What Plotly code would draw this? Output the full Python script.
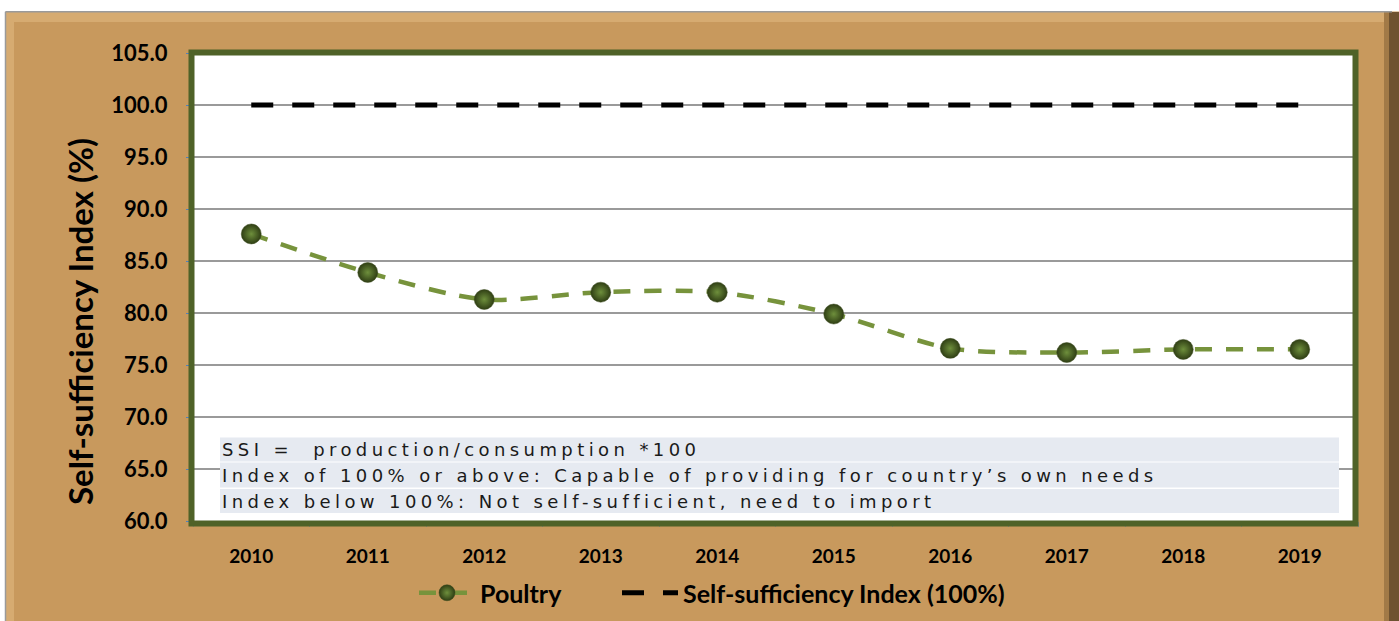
import plotly.graph_objects as go

years = ["2010", "2011", "2012", "2013", "2014", "2015", "2016", "2017", "2018", "2019"]
poultry = [87.6, 83.9, 81.3, 82.0, 82.0, 79.9, 76.6, 76.2, 76.5, 76.5]
ssi_ref = [100.0] * len(years)
y_ticks = [60, 65, 70, 75, 80, 85, 90, 95, 100, 105]
note_lines = [
    "SSI =  production/consumption *100",
    "Index of 100% or above: Capable of providing for country\u2019s own needs",
    "Index below 100%: Not self-sufficient, need to import",
]

W, H = 1399, 621
L, R, T, B = 193, 1358, 53, 521

def px(x):
    return (x - L) / (R - L)

def py(y):
    return (B - y) / (B - T)

def cx(x):
    return x / W

def cy(y):
    return (H - y) / H

TAN = "#C8995D"
fig = go.Figure()

fig.add_trace(go.Scatter(
    x=years, y=poultry, name="Poultry", mode="lines+markers", legend="legend",
    line=dict(color="#77933C", width=4.5, dash="17px,14px", shape="spline", smoothing=0.8),
    marker=dict(size=20, color="#2F3E14", line=dict(color="#3A4A1C", width=0.5),
                gradient=dict(type="radial", color="#6E8F3C")),
))
fig.add_trace(go.Scatter(
    x=years, y=ssi_ref, name="Self-sufficiency Index (100%)", mode="lines", legend="legend2",
    line=dict(color="#000000", width=5, dash="22px,19px"),
))

shapes = []
# white strips at top/left
shapes.append(dict(type="rect", xref="paper", yref="paper", x0=px(-5), x1=px(W + 5), y0=py(11.5), y1=py(-5),
                   fillcolor="white", line=dict(width=0), layer="below"))
shapes.append(dict(type="rect", xref="paper", yref="paper", x0=px(-5), x1=px(5.5), y0=py(W), y1=py(-5),
                   fillcolor="white", line=dict(width=0), layer="below"))
# bevel highlights
shapes.append(dict(type="rect", xref="paper", yref="paper", x0=px(6), x1=px(1388), y0=py(22), y1=py(12),
                   fillcolor="#D6AB71", line=dict(width=0), layer="below"))
shapes.append(dict(type="rect", xref="paper", yref="paper", x0=px(6), x1=px(14), y0=py(625), y1=py(12),
                   fillcolor="#D6AB71", line=dict(width=0), layer="below"))
# frame outline
shapes.append(dict(type="line", xref="paper", yref="paper", x0=px(5.5), x1=px(1392), y0=py(11.8), y1=py(11.8),
                   line=dict(color="#9A9A9A", width=1.5)))
shapes.append(dict(type="line", xref="paper", yref="paper", x0=px(5.5), x1=px(5.5), y0=py(11.8), y1=py(625),
                   line=dict(color="#9A9A9A", width=1.5)))
# right shadow
shapes.append(dict(type="rect", xref="paper", yref="paper", x0=px(1384), x1=px(1389), y0=py(625), y1=py(12),
                   fillcolor="#A27A47", line=dict(width=0), layer="below"))
shapes.append(dict(type="rect", xref="paper", yref="paper", x0=px(1389), x1=px(1399), y0=py(625), y1=py(12),
                   fillcolor="#6E5230", line=dict(width=0), layer="below"))

# note box rows
rows = [(437.5, 461.5), (462.5, 487.5), (489, 513)]
for (y0, y1) in rows:
    shapes.append(dict(type="rect", xref="paper", yref="paper", x0=px(220), x1=px(1339), y0=py(y1), y1=py(y0),
                       fillcolor="#E6EAF1", line=dict(width=0), layer="above"))

# plot border
shapes.append(dict(type="rect", xref="paper", yref="paper", x0=px(L - 1.5), x1=px(R - 2.5), y0=py(B + 2.5), y1=py(T - 0.5),
                   fillcolor="rgba(0,0,0,0)", line=dict(color="#4F6228", width=6), layer="above"))

annotations = []
text_y = [449.5, 475, 501]
for t, yy in zip(note_lines, text_y):
    annotations.append(dict(
        text='<span style="letter-spacing:4.4px">' + t + '</span>',
        xref="paper", yref="paper", x=px(220), y=py(yy), xanchor="left", yanchor="middle",
        showarrow=False, font=dict(family="DejaVu Sans", size=18, color="#1A1A1A"),
    ))
annotations.append(dict(
    text="<b>Self-sufficiency Index (%)</b>", textangle=-90,
    xref="paper", yref="paper", x=px(80), y=py(322), xanchor="center", yanchor="middle",
    showarrow=False, font=dict(family="Lato", size=33, color="#000000"),
))

legend_font = dict(family="Lato", size=25, color="#000000", weight="bold")
fig.update_layout(
    width=W, height=H,
    margin=dict(l=L, r=W - R, t=T, b=H - B, pad=0, autoexpand=False),
    paper_bgcolor=TAN, plot_bgcolor="white",
    font=dict(family="Lato", color="#000000"),
    showlegend=True,
    legend=dict(orientation="h", xref="container", yref="container", x=cx(414), y=cy(593),
                xanchor="left", yanchor="middle", font=legend_font,
                bgcolor="rgba(0,0,0,0)", itemwidth=56),
    legend2=dict(orientation="h", xref="container", yref="container", x=cx(617), y=cy(593),
                 xanchor="left", yanchor="middle", font=legend_font,
                 bgcolor="rgba(0,0,0,0)", itemwidth=56),
    shapes=shapes, annotations=annotations,
    xaxis=dict(type="category", range=[-0.5, 9.5], showgrid=False, zeroline=False, automargin=False,
               ticks="outside", tickson="boundaries", ticklen=5, tickcolor="#8C8C8C",
               showline=False,
               tickfont=dict(family="Lato", size=19, color="#000000", weight="bold"),
               ticklabelstandoff=22),
    yaxis=dict(range=[60, 105], tickvals=y_ticks, tickformat=".1f", automargin=False,
               showgrid=True, gridcolor="#9A9A9A", gridwidth=1.5, zeroline=False,
               showline=True, linecolor="#4F81BD", linewidth=1,
               ticks="outside", ticklen=6, tickcolor="#4F81BD",
               tickfont=dict(family="Lato", size=22, color="#000000", weight="bold"),
               ticklabelstandoff=14),
)

fig.write_html("out.html", config={"displayModeBar": False},
               post_script="document.body.style.margin='0';document.body.style.overflow='hidden';")
